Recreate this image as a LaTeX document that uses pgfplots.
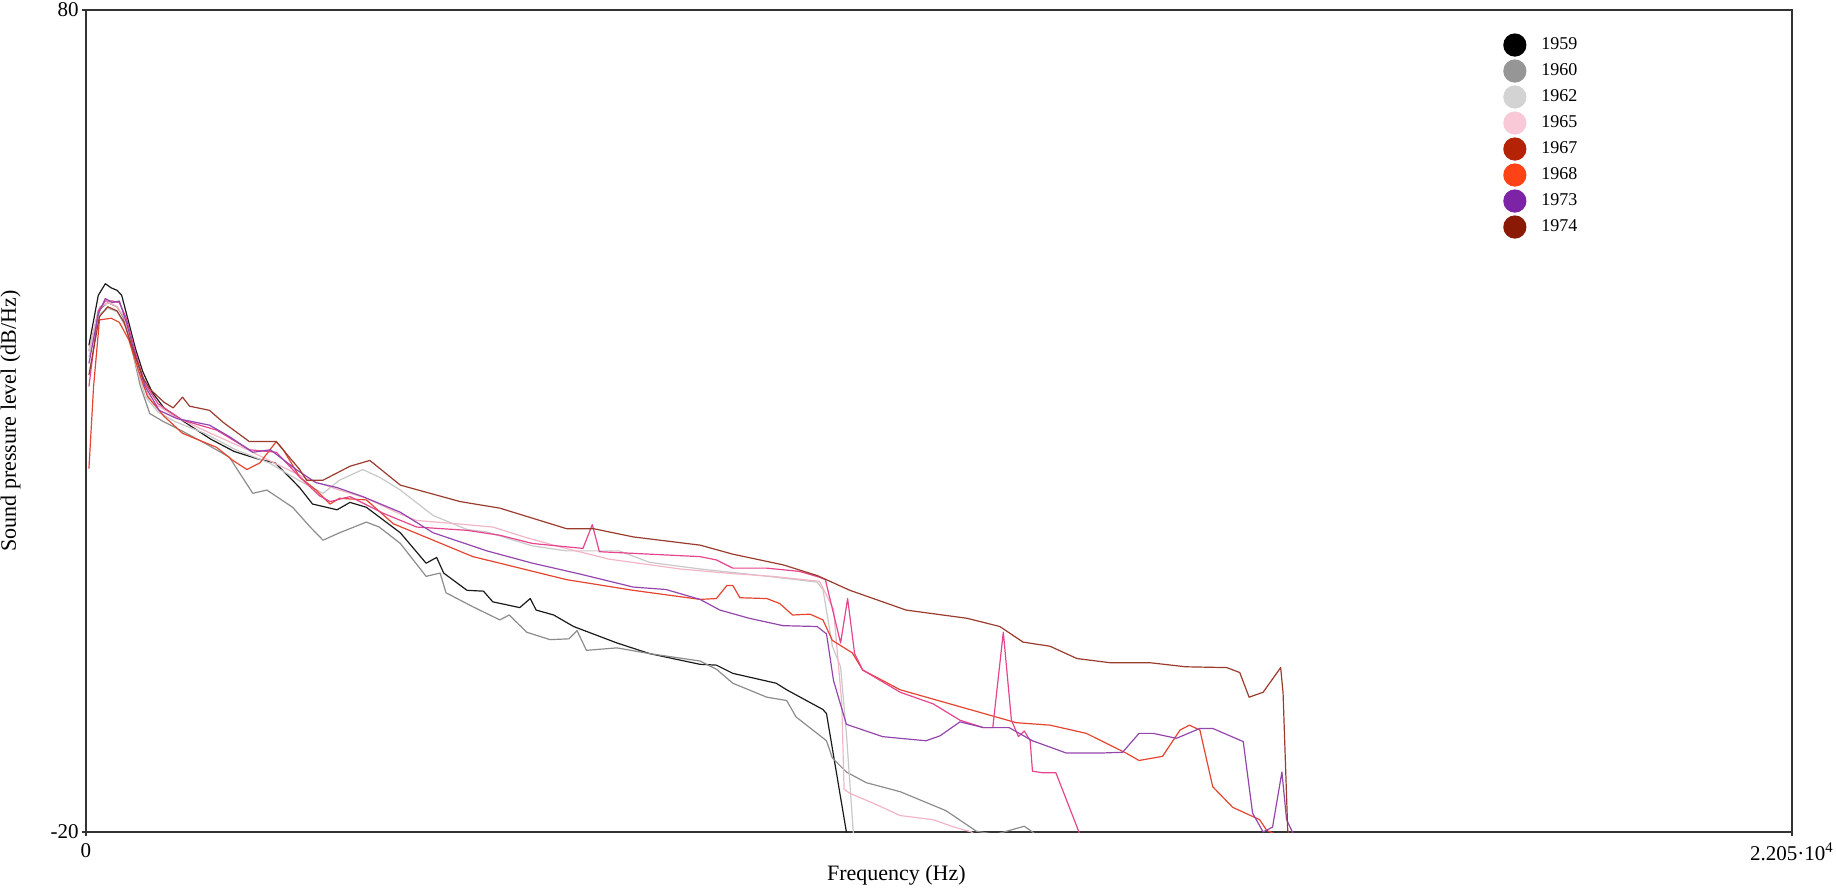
\documentclass[border=0pt]{standalone}
\usepackage{fontspec}
\setmainfont{Liberation Serif}
\usepackage{pgfplots}
\pgfplotsset{compat=1.18}
\definecolor{lc59}{HTML}{1A1A1A}
\definecolor{lc60}{HTML}{8C8C8C}
\definecolor{lc62}{HTML}{C8C8C8}
\definecolor{lc65}{HTML}{F2B5C5}
\definecolor{lchp}{HTML}{E6448F}
\definecolor{lc68}{HTML}{E5452F}
\definecolor{lc73}{HTML}{9446AD}
\definecolor{lc74}{HTML}{9A3B2E}
\definecolor{g59}{HTML}{000000}
\definecolor{g60}{HTML}{969696}
\definecolor{g62}{HTML}{D3D3D3}
\definecolor{g65}{HTML}{F9C9D8}
\definecolor{g67}{HTML}{B52306}
\definecolor{g68}{HTML}{FF4316}
\definecolor{g73}{HTML}{7D23A6}
\definecolor{g74}{HTML}{8A1A06}
\definecolor{axc}{HTML}{333333}
\begin{document}
\begin{tikzpicture}
\begin{axis}[
  scale only axis, width=853pt, height=411pt,
  xmin=0, xmax=22050, ymin=-20, ymax=80,
  scaled x ticks=false, scaled y ticks=false,
  axis line style={axc, line width=1.2pt},
  xtick={0,22050}, xticklabels={0,{2.205·10\textsuperscript{4}}},
  ytick={-20,80}, yticklabels={-20,80},
  tick pos=left, tick align=outside, major tick length=2pt,
  tick style={axc, line width=0.8pt},
  ticklabel style={font=\fontsize{10.5}{12}\selectfont},
  yticklabel style={inner sep=1.5pt},
  xlabel={Frequency (Hz)}, ylabel={Sound pressure level (dB/Hz)},
  label style={font=\fontsize{11}{13}\selectfont},
  xlabel style={at={(axis description cs:0.475,-0.0523)}, anchor=center},
  ylabel style={at={(axis description cs:-0.0442,0.5)}, anchor=center},
  legend style={draw=none, fill=none, at={(axis description cs:0.8305,0.972)}, anchor=north west,
    font=\fontsize{9}{10}\selectfont, row sep=1.4pt, inner sep=0pt, nodes={inner sep=1pt},
    /tikz/every odd column/.append style={column sep=6.5pt}},
  legend cell align=left,
  every axis plot/.append style={line width=0.6pt, line join=round},
]
\coordinate (bl) at (rel axis cs:0,0);
% 1959
\addplot[lc59, forget plot] coordinates {
(38,39.2)(159,45.3)(250,46.7)(325,46.2)(401,45.9)(461,45.3)(552,42.0)(643,38.7)(734,36.0)(855,33.5)
(1006,31.6)(1157,30.6)(1384,29.2)(1611,27.8)(1914,26.3)(2216,25.4)(2444,24.9)(2595,23.5)(2761,21.9)
(2928,19.9)(3245,19.2)(3412,20.1)(3624,19.5)(4063,16.4)(4396,12.7)(4532,13.4)(4623,11.5)(4925,9.4)
(5137,9.3)(5258,8.0)(5606,7.3)(5742,8.4)(5818,7.0)(6045,6.4)(6302,5.0)(6862,3.0)(7285,1.7)(7936,0.4)
(8148,0.3)(8360,-0.7)(8920,-1.9)(9056,-2.7)(9525,-5.1)(9571,-5.6)(9828,-20.0)(9844,-20.7)};
% 1960
\addplot[lc60, forget plot] coordinates {
(38,38.5)(159,43.4)(280,44.4)(401,43.9)(477,42.7)(582,39.2)(704,34.2)(825,30.9)(1006,29.9)(1218,28.9)
(1536,27.3)(1853,25.6)(2156,21.2)(2338,21.6)(2671,19.5)(2898,17.1)(3064,15.5)(3276,16.4)(3624,17.7)
(3790,17.1)(4063,15.1)(4396,11.1)(4577,11.5)(4653,9.1)(5001,7.4)(5349,5.8)(5470,6.4)(5697,4.3)
(5999,3.4)(6241,3.5)(6347,4.5)(6468,2.1)(6862,2.4)(7285,1.7)(7936,0.8)(8148,-0.2)(8360,-1.9)
(8799,-3.6)(9056,-4.0)(9177,-6.0)(9571,-8.9)(9647,-11.0)(9828,-12.7)(10085,-14.0)(10524,-15.1)
(11114,-17.4)(11508,-19.9)(11750,-20.3)(12127,-19.3)(12278,-20.3)};
% 1962
\addplot[lc62, forget plot] coordinates {
(38,37.8)(174,43.0)(280,43.7)(401,43.3)(522,41.3)(643,37.0)(764,33.0)(930,31.1)(1157,29.9)(1536,28.5)
(1914,26.6)(2368,24.9)(2746,22.8)(3064,21.2)(3276,22.8)(3578,24.1)(3805,23.1)(4063,21.6)(4487,18.5)
(4925,16.8)(5182,16.5)(5772,14.8)(6211,14.2)(6892,14.2)(7285,12.8)(7936,12.0)(8723,11.2)(9450,10.4)
(9525,9.5)(9647,2.6)(9753,0.1)(9828,-8.0)(9919,-20.3)};
% 1965
\addplot[lc65, forget plot] coordinates {
(38,38.5)(174,43.9)(295,44.4)(401,43.9)(492,42.7)(582,39.2)(704,34.9)(855,32.3)(1157,30.5)(1611,28.5)
(2065,26.6)(2519,24.5)(2898,22.8)(3276,21.6)(3624,20.6)(4032,18.8)(4274,17.9)(4789,17.5)(5258,17.1)
(5697,15.8)(6120,14.7)(6756,13.2)(7679,12.0)(8269,11.5)(8874,11.1)(9480,10.5)(9662,7.1)(9768,-4.3)
(9798,-14.8)(9874,-15.3)(10176,-16.5)(10524,-18.0)(10947,-18.5)(11220,-19.4)(11447,-20.0)(11500,-20.5)};
% 1968
\addplot[lc68, forget plot] coordinates {
(38,24.2)(98,34.2)(174,42.3)(325,42.5)(431,42.0)(552,39.9)(673,36.3)(794,33.0)(1006,30.6)(1248,28.5)
(1687,26.8)(1899,25.2)(2080,24.1)(2247,24.9)(2459,27.5)(2550,26.5)(2761,23.2)(2973,21.6)(3155,19.9)
(3276,20.6)(3624,20.4)(3972,17.5)(4487,15.5)(5001,13.5)(5349,12.7)(6211,10.7)(7073,9.4)(7936,8.3)
(8148,8.4)(8284,10.0)(8360,10.0)(8451,8.5)(8799,8.4)(8965,7.8)(9132,6.4)(9359,6.5)(9525,5.8)
(9647,3.3)(9904,1.8)(10039,-0.3)(10524,-2.7)(11387,-5.0)(12022,-6.7)(12460,-7.0)(12929,-8.0)
(13443,-10.4)(13610,-11.3)(13913,-10.8)(14140,-7.6)(14261,-7.0)(14397,-7.6)(14563,-14.5)(14821,-17.0)
(15169,-18.5)(15260,-19.8)(15381,-20.3)};
% pink series
\addplot[lchp, forget plot] coordinates {
(38,34.2)(159,43.4)(250,44.6)(340,44.6)(431,44.4)(522,42.5)(643,38.2)(764,34.5)(930,32.1)(1248,30.1)
(1687,28.9)(2111,26.5)(2459,26.2)(2761,23.2)(3018,20.9)(3155,20.2)(3412,20.8)(3836,18.8)(4274,17.1)
(4925,16.7)(5349,16.1)(5772,15.1)(6423,14.5)(6544,17.4)(6635,14.1)(7073,13.9)(7936,13.5)(8148,13.1)
(8360,12.1)(8799,12.1)(9223,11.7)(9480,11.0)(9556,10.7)(9753,3.0)(9844,8.4)(9934,1.7)(10039,-0.3)
(10524,-3.0)(10947,-4.4)(11296,-6.4)(11599,-7.3)(11720,-7.3)(11856,4.3)(11961,-6.4)(12052,-8.4)
(12127,-7.7)(12203,-8.9)(12233,-12.6)(12369,-12.8)(12536,-12.8)(12838,-20.1)(12850,-20.5)};
% 1973
\addplot[lc73, forget plot] coordinates {
(38,37.0)(159,43.0)(250,44.9)(340,44.4)(431,44.6)(522,42.0)(643,37.8)(764,34.2)(946,31.3)(1173,30.3)
(1596,29.5)(1853,28.1)(2156,26.2)(2383,26.5)(2716,24.1)(2973,22.5)(3245,21.9)(3578,20.8)(4063,18.9)
(4487,16.4)(5182,14.2)(5772,12.7)(6377,11.4)(7073,9.8)(7497,9.5)(7936,8.3)(8193,7.0)(8572,6.0)
(9010,5.1)(9450,5.0)(9571,4.1)(9662,-1.6)(9828,-6.9)(10297,-8.4)(10856,-8.9)(11038,-8.3)(11296,-6.6)
(11599,-7.3)(11931,-7.3)(12233,-8.9)(12672,-10.4)(13096,-10.4)(13398,-10.3)(13610,-8.0)(13792,-8.0)
(14094,-8.6)(14397,-7.4)(14563,-7.4)(14957,-9.0)(15078,-17.7)(15214,-20.0)(15336,-19.4)(15457,-12.7)
(15517,-18.5)(15608,-20.3)};
% 1974
\addplot[lc74, forget plot] coordinates {
(38,35.6)(174,42.7)(280,43.9)(401,43.4)(492,42.0)(613,38.5)(734,35.3)(825,33.9)(1006,32.3)(1127,31.6)
(1248,32.9)(1339,31.8)(1596,31.3)(1778,29.8)(2111,27.5)(2459,27.5)(2761,24.1)(2852,22.8)(3064,22.8)
(3412,24.5)(3669,25.2)(4063,22.2)(4834,20.2)(5349,19.4)(6211,16.9)(6559,16.9)(7073,15.9)(7936,14.9)
(8360,13.8)(9010,12.5)(9450,11.2)(9874,9.4)(10599,7.0)(11387,6.0)(11810,5.0)(12112,3.1)(12460,2.6)
(12808,1.1)(13232,0.6)(13746,0.6)(14215,0.1)(14745,0.0)(14912,-0.6)(15033,-3.6)(15214,-3.0)
(15441,0.0)(15472,-3.1)(15532,-19.8)(15563,-20.7)};
\addlegendimage{legend image code/.code={\fill[g59] (0pt,0pt) circle (5.5pt);}}
\addlegendentry{1959}
\addlegendimage{legend image code/.code={\fill[g60] (0pt,0pt) circle (5.5pt);}}
\addlegendentry{1960}
\addlegendimage{legend image code/.code={\fill[g62] (0pt,0pt) circle (5.5pt);}}
\addlegendentry{1962}
\addlegendimage{legend image code/.code={\fill[g65] (0pt,0pt) circle (5.5pt);}}
\addlegendentry{1965}
\addlegendimage{legend image code/.code={\fill[g67] (0pt,0pt) circle (5.5pt);}}
\addlegendentry{1967}
\addlegendimage{legend image code/.code={\fill[g68] (0pt,0pt) circle (5.5pt);}}
\addlegendentry{1968}
\addlegendimage{legend image code/.code={\fill[g73] (0pt,0pt) circle (5.5pt);}}
\addlegendentry{1973}
\addlegendimage{legend image code/.code={\fill[g74] (0pt,0pt) circle (5.5pt);}}
\addlegendentry{1974}
\end{axis}
\pgfresetboundingbox
\path[use as bounding box] (bl) ++(-43pt,-29pt) rectangle ++(918pt,445pt);
\end{tikzpicture}
\end{document}
